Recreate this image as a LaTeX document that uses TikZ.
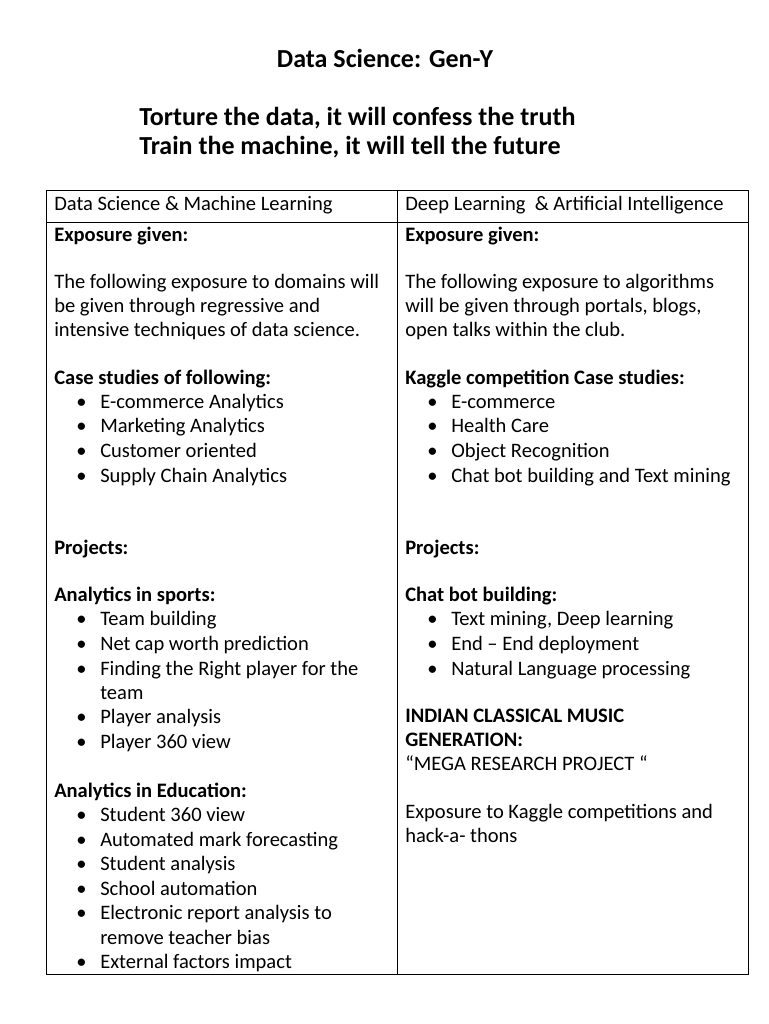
\documentclass[tikz,border=0pt]{standalone}
\usepackage{fontspec}
\setmainfont{Carlito}
\begin{document}
\begin{tikzpicture}[x=0.75pt,y=-0.75pt,
  txt/.style={anchor=base west,inner sep=0pt,font=\fontsize{15.4}{18}\selectfont},
  btxt/.style={txt,font=\fontsize{15.4}{18}\selectfont\bfseries},
  big/.style={anchor=base west,inner sep=0pt,font=\fontsize{19.5}{23}\selectfont\bfseries},
  grid/.style={draw=black,line width=0.7pt}]
\useasboundingbox (0,0) rectangle (768,1024);
\node[big,anchor=base] (title) at (385,68) {Data Science: Gen-Y};
\node[big] (t1) at (139,125) {Torture the data, it will confess the truth};
\node[big] (t2) at (139,154) {Train the machine, it will tell the future};
\draw[grid] (46,190) rectangle (748,974);
\draw[grid] (46,222) -- (748,222);
\draw[grid] (397,190) -- (397,974);
% left column
\def\L{54}\def\B{76}\def\T{100}
\node[txt] (h1) at (\L,210) {Data Science \& Machine Learning};
\node[btxt] (a1) at (\L,241) {Exposure given:};
\node[txt] (a2) at (\L,288) {The following exposure to domains will};
\node[txt] (a3) at (\L,312) {be given through regressive and};
\node[txt] (a4) at (\L,336) {intensive techniques of data science.};
\node[btxt] (a5) at (\L,384) {Case studies of following:};
\foreach \y/\s [count=\i] in {408/E-commerce Analytics,432/Marketing Analytics,457/Customer oriented,482/Supply Chain Analytics,625/Team building,650/Net cap worth prediction,675/Finding the Right player for the,723/Player analysis,748/Player 360 view,821/Student 360 view,846/Automated mark forecasting,870/Student analysis,895/School automation,919/Electronic report analysis to,968/External factors impact}{
  \node[txt] (lb\i) at (\B,\y) {•};
  \node[txt] (lt\i) at (\T,\y) {\s};
}
\node[txt] (c1) at (\T,699) {team};
\node[txt] (c2) at (\T,944) {remove teacher bias};
\node[btxt] (a6) at (\L,554) {Projects:};
\node[btxt] (a7) at (\L,601) {Analytics in sports:};
\node[btxt] (a8) at (\L,797) {Analytics in Education:};
% right column
\def\R{405}\def\RB{427}\def\RT{451}
\node[txt] (h2) at (\R,210) {Deep Learning \ \& Artificial Intelligence};
\node[btxt] (r1) at (\R,241) {Exposure given:};
\node[txt] (r2) at (\R,288) {The following exposure to algorithms};
\node[txt] (r3) at (\R,312) {will be given through portals, blogs,};
\node[txt] (r4) at (\R,336) {open talks within the club.};
\node[btxt] (r5) at (\R,384) {Kaggle competition Case studies:};
\foreach \y/\s [count=\i] in {408/E-commerce,432/Health Care,457/Object Recognition,482/Chat bot building and Text mining,625/{Text mining, Deep learning},650/End -- End deployment,675/Natural Language processing}{
  \node[txt] (rb\i) at (\RB,\y) {•};
  \node[txt] (rt\i) at (\RT,\y) {\s};
}
\node[btxt] (r6) at (\R,554) {Projects:};
\node[btxt] (r7) at (\R,601) {Chat bot building:};
\node[btxt] (r8) at (\R,722) {INDIAN CLASSICAL MUSIC};
\node[btxt] (r9) at (\R,746) {GENERATION:};
\node[txt] (r10) at (\R,770) {“MEGA RESEARCH PROJECT “};
\node[txt] (r11) at (\R,818) {Exposure to Kaggle competitions and};
\node[txt] (r12) at (\R,842) {hack-a- thons};
\end{tikzpicture}
\end{document}
